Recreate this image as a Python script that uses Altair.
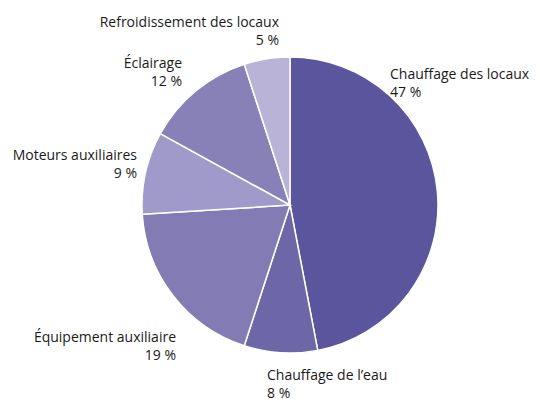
import altair as alt
import pandas as pd

categories = ["Chauffage des locaux", "Chauffage de l\u2019eau", "\u00c9quipement auxiliaire",
              "Moteurs auxiliaires", "\u00c9clairage", "Refroidissement des locaux"]
values = [47, 8, 19, 9, 12, 5]
colors = ["#5b559d", "#6d67a7", "#827bb4", "#a09aca", "#8881b8", "#b8b3d7"]

# label layout (plot-area pixels): x anchor, first-line baseline, alignment
label_x = [382, 259, 168, 129, 174, 271]
label_y = [71, 372, 334, 152, 60, 18.5]
label_align = ["left", "left", "right", "right", "right", "right"]

df = pd.DataFrame({
    "cat": categories,
    "val": values,
    "ord": list(range(len(categories))),
    "label": [f"{c}\n{v} %" for c, v in zip(categories, values)],
    "lx": label_x,
    "ly": label_y,
    "al": label_align,
})

pie = alt.Chart(df).mark_arc(radius=148, stroke="white", strokeWidth=1.5).encode(
    theta=alt.Theta("val:Q", stack=True),
    order=alt.Order("ord:Q"),
    color=alt.Color("cat:N", scale=alt.Scale(domain=categories, range=colors), legend=None),
    x=alt.value(282),
    y=alt.value(197),
)

def text_layer(align):
    return alt.Chart(df).transform_filter(alt.datum.al == align).mark_text(
        align=align, baseline="alphabetic", font="Open Sans", fontSize=14,
        color="#1a1a1a", lineBreak="\n", lineHeight=18,
    ).encode(
        x=alt.X("lx:Q", scale=None),
        y=alt.Y("ly:Q", scale=None),
        text="label:N",
    )

chart = alt.layer(pie, text_layer("left"), text_layer("right")).properties(
    width=524, height=395, padding=0,
    autosize=alt.AutoSizeParams(type="fit", contains="padding"),
).configure_view(stroke=None)

chart.save("out.html", embed_options={"renderer": "svg", "actions": False})
